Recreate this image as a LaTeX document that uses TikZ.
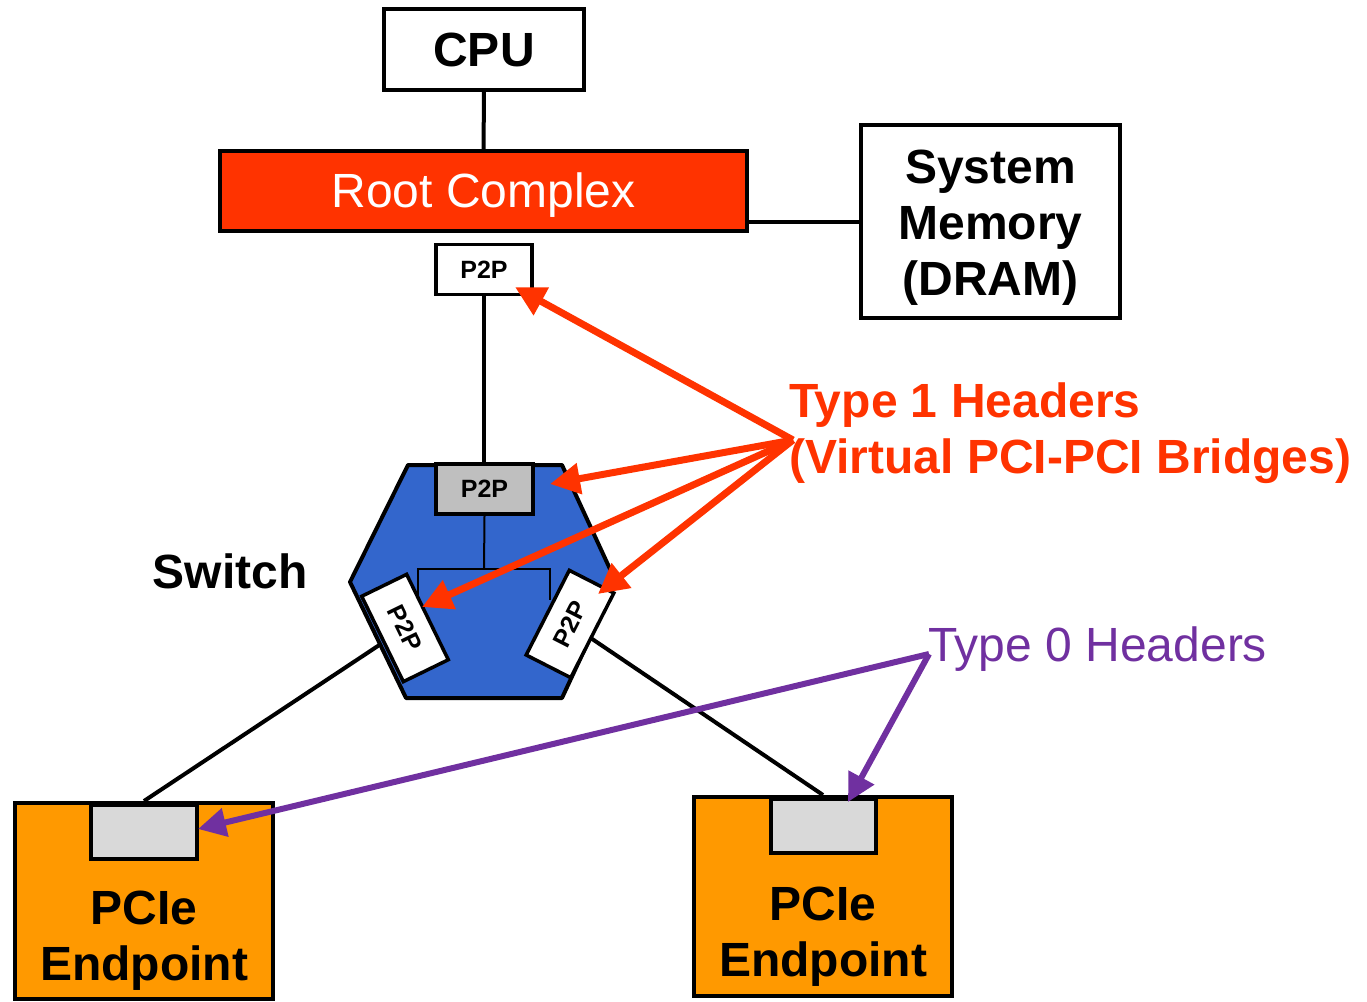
\documentclass[tikz,border=0pt]{standalone}
\usepackage{fontspec}
\setmainfont{Liberation Sans}
\usetikzlibrary{arrows.meta}
\definecolor{rcred}{HTML}{FF3300}
\definecolor{swblue}{HTML}{3366CC}
\definecolor{eporange}{HTML}{FF9900}
\definecolor{tpurple}{HTML}{7030A0}
\definecolor{pgray}{HTML}{BFBFBF}
\definecolor{lgray}{HTML}{D9D9D9}
\tikzset{
  box/.style={draw=black, line width=4pt, inner sep=0pt, font=\fontsize{48}{56}\selectfont\bfseries, align=center},
  p2pbox/.style={draw=black, line width=3.5pt, fill=white, inner sep=0pt, minimum width=96pt, minimum height=50pt, font=\fontsize{25}{30}\selectfont\bfseries},
  wire/.style={draw=black, line width=4pt},
  thin/.style={draw=black, line width=2pt},
  redarrow/.style={draw=rcred, line width=7pt, -{Triangle[length=30pt,width=30pt]}},
  purparrow/.style={draw=tpurple, line width=6pt, -{Triangle[length=28pt,width=28pt]}},
  bigtext/.style={font=\fontsize{48}{56}\selectfont, inner sep=0pt, align=center},
  boldtext/.style={font=\fontsize{48}{56}\selectfont\bfseries, inner sep=0pt, align=center}
}
\begin{document}
\begin{tikzpicture}[x=1pt,y=-1pt]
\useasboundingbox (0,0) rectangle (1367,1001);
% nodes
\node[box, minimum width=200pt, minimum height=81pt] (cpu) at (484,49.5) {CPU};
\node[box, fill=rcred, minimum width=527pt, minimum height=80pt] (rc) at (483.5,191) {};
\node[bigtext, text=white] (rct) at (483.5,195) {Root Complex};
\node[box, minimum width=259pt, minimum height=193pt] (mem) at (990.5,221.5) {};
\node[boldtext] (memt) at (990.5,228) {System\\Memory\\(DRAM)};
\node[p2pbox] (p2pt) at (484,269.5) {P2P};
% connectors behind
\draw[wire] (cpu) -- (rc);
\draw[wire] (mem.west) -- (mem.west -| rc.east);
\coordinate (lp2pc) at (405,628);
\coordinate (rp2pc) at (570,624);
\node[box, fill=eporange, minimum width=258pt, minimum height=196pt] (ep1) at (144,901) {};
\node[box, fill=eporange, minimum width=258pt, minimum height=199pt] (ep2) at (823,896.5) {};
\draw[wire] (lp2pc) -- (ep1.north);
\draw[wire] (rp2pc) -- (ep2.north);
\draw[wire] (p2pt) -- (484,466);
% switch
\draw[line width=4pt, fill=swblue, line join=round] (408,465) -- (562,465) -- (616,582) -- (562,698) -- (406,698) -- (350,582) -- cycle;
\node[p2pbox, fill=pgray, minimum width=97pt] (sp2p) at (484.5,489) {P2P};
\coordinate (tj) at (484,569);
\coordinate (tl) at (418,569);
\coordinate (tr) at (550,569);
\draw[thin] (sp2p.south) -- (tj);
\draw[thin] (tl |- 0,610) -- (tl) -- (tr) -- (tr |- 0,600);
\node[p2pbox, minimum width=95pt, rotate=-64] (lp2p) at (lp2pc) {P2P};
\node[p2pbox, minimum width=95pt, rotate=63] (rp2p) at (rp2pc) {P2P};
% endpoint header boxes
\node[draw=black, line width=4pt, fill=lgray, minimum width=106pt, minimum height=54pt, inner sep=0pt, anchor=north] (h1) at (144,803) {};
\node[draw=black, line width=4pt, fill=lgray, minimum width=105pt, minimum height=54pt, inner sep=0pt, anchor=north] (h2) at (823.5,797) {};
\node[boldtext] (ep1t) at (144,940.5) {PCIe\\Endpoint};
\node[boldtext] (ep2t) at (823,937) {PCIe\\Endpoint};
% labels
\node[boldtext] (sw) at (230,571) {Switch};
\node[boldtext, align=left, text=rcred, anchor=west] (t1) at (789,433.5) {Type 1 Headers\\(Virtual PCI-PCI Bridges)};
\node[bigtext, text=tpurple, anchor=west] (t0) at (928,649) {Type 0 Headers};
% arrows
\coordinate (t1o) at (793,440);
\coordinate (t0o) at (929,654);
\coordinate (a1) at (515,287);
\coordinate (a2) at (550,484);
\coordinate (a3) at (422,607);
\coordinate (a4) at (598,594);
\draw[redarrow] (t1o) -- (a1);
\draw[redarrow] (t1o) -- (a2);
\draw[redarrow] (t1o) -- (a3);
\draw[redarrow] (t1o) -- (a4);
\coordinate (b1) at (198,829);
\coordinate (b2) at (848,802);
\draw[purparrow] (t0o) -- (b1);
\draw[purparrow] (t0o) -- (b2);
\end{tikzpicture}
\end{document}
